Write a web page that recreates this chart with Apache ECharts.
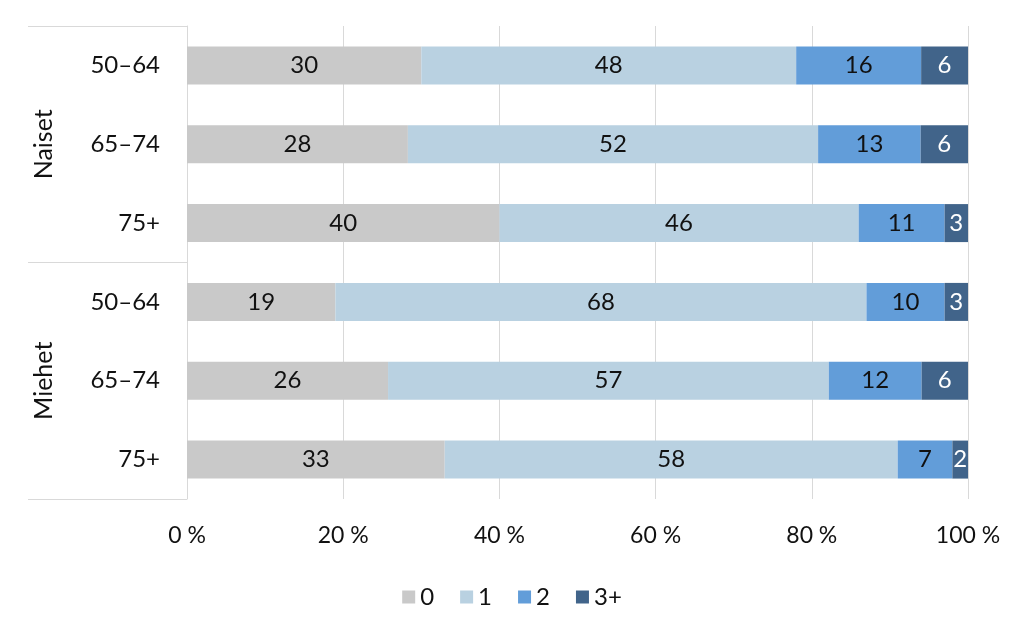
<!DOCTYPE html>
<html>
<head>
<meta charset="utf-8">
<script src="https://cdn.jsdelivr.net/npm/echarts@6/dist/echarts.min.js"></script>
<style>
  html, body { margin: 0; padding: 0; background: #fff; }
  #chart { width: 1024px; height: 630px; }
</style>
</head>
<body>
<div id="chart"></div>
<script>
  // ikäryhmät ylhäältä alas
  var ages = ['50–64', '65–74', '75+', '50–64', '65–74', '75+'];
  var groups = ['Naiset', 'Miehet'];
  var seriesNames = ['0', '1', '2', '3+'];
  var v0 = [30, 28, 40, 19, 26, 33];
  var v1 = [48, 52, 46, 68, 57, 58];
  var v2 = [16, 13, 11, 10, 12, 7];
  var v3 = [6, 6, 3, 3, 6, 2];
  var xTicks = [0, 20, 40, 60, 80, 100];

  var colors = ['#c9c9c9', '#b9d1e1', '#629dd9', '#41648a'];
  var font = 'Lato';
  var raw = [v0, v1, v2, v3];

  // rivisummat, jotta palkit ulottuvat 100 %:iin
  var sums = ages.map(function (a, i) {
    return v0[i] + v1[i] + v2[i] + v3[i];
  });

  var series = raw.map(function (vals, s) {
    return {
      name: seriesNames[s],
      type: 'bar',
      stack: 'total',
      barWidth: 38,
      itemStyle: { color: colors[s] },
      label: {
        show: true,
        position: 'inside',
        fontFamily: font,
        fontSize: 24,
        color: s === 3 ? '#ffffff' : '#111111',
        formatter: function (p) { return vals[p.dataIndex]; }
      },
      data: vals.map(function (v, i) { return v / sums[i] * 100; })
    };
  });

  var chart = echarts.init(document.getElementById('chart'));
  chart.setOption({
    animation: false,
    textStyle: { fontFamily: font },
    legend: {
      data: seriesNames,
      bottom: 16,
      left: 'center',
      itemWidth: 13,
      itemHeight: 13,
      itemGap: 26,
      icon: 'rect',
      textStyle: { fontFamily: font, fontSize: 24, color: '#111' }
    },
    grid: { left: 187, right: 56, top: 26, bottom: 131 },
    xAxis: {
      type: 'value',
      min: xTicks[0],
      max: xTicks[xTicks.length - 1],
      interval: 20,
      axisLine: { show: false },
      axisTick: { show: false },
      splitLine: { lineStyle: { color: '#d9d9d9', width: 1 } },
      axisLabel: {
        margin: 25,
        fontFamily: font,
        fontSize: 23,
        color: '#111',
        formatter: '{value} %'
      }
    },
    yAxis: [
      {
        type: 'category',
        data: ages,
        inverse: true,
        axisLine: { show: true, lineStyle: { color: '#d9d9d9' } },
        axisTick: { show: false },
        axisLabel: { margin: 27, fontFamily: font, fontSize: 24, color: '#111' }
      },
      {
        type: 'category',
        data: groups,
        inverse: true,
        position: 'left',
        axisLine: { show: false },
        axisTick: { show: true, length: 159, lineStyle: { color: '#d9d9d9' } },
        axisLabel: {
          rotate: 90,
          margin: 131,
          fontFamily: font,
          fontSize: 25,
          color: '#111'
        }
      }
    ],
    series: series
  });
</script>
</body>
</html>
